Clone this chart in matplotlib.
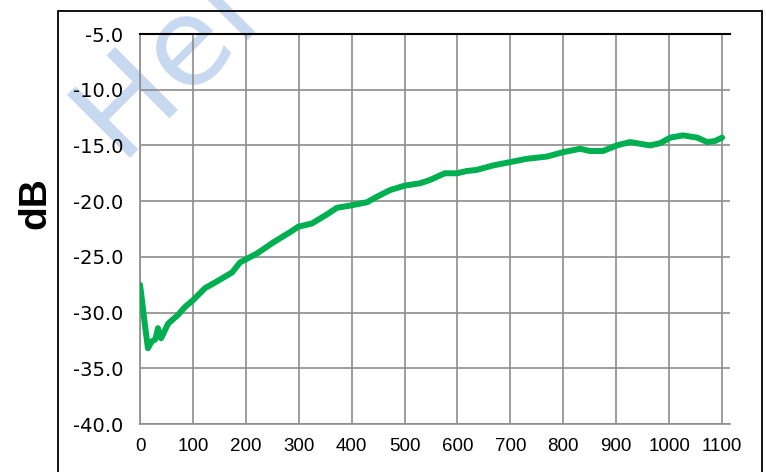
import numpy as np
import matplotlib.pyplot as plt
from matplotlib.patches import Rectangle

plt.rcParams['font.family'] = ['Liberation Sans', 'DejaVu Sans']

# curve (frequency, dB)
freq = [0, 3, 9, 15, 22, 29, 34, 40, 53, 72, 85, 100, 123, 142, 174,
        189, 221, 252, 283, 299, 325, 353, 372, 397, 429, 448, 473, 501,
        529, 548, 576, 599, 617, 636, 667, 699, 731, 769, 800, 832, 850,
        875, 901, 926, 964, 983, 1002, 1026, 1053, 1072, 1087, 1100]
db = [-27.5, -28.6, -31.0, -33.2, -32.6, -32.4, -31.4, -32.3, -31.0,
      -30.2, -29.5, -28.9, -27.8, -27.3, -26.4, -25.5, -24.7, -23.7,
      -22.8, -22.3, -22.0, -21.2, -20.6, -20.4, -20.1, -19.6, -19.0,
      -18.6, -18.4, -18.1, -17.5, -17.5, -17.3, -17.2, -16.8, -16.5,
      -16.2, -16.0, -15.6, -15.3, -15.5, -15.5, -15.0, -14.7, -15.0,
      -14.8, -14.3, -14.1, -14.3, -14.7, -14.6, -14.3]

x_ticks = list(range(0, 1101, 100))
y_ticks = [-40, -35, -30, -25, -20, -15, -10, -5]

W, H = 766, 472
fig = plt.figure(figsize=(W / 100, H / 100), dpi=100)

# outer chart border (bottom runs off the image)
fig.patches.append(Rectangle((58 / W, -0.1), (762 - 58) / W, 1 - 11 / H + 0.1,
                             transform=fig.transFigure, fill=False,
                             edgecolor='black', lw=1.3))

# watermark behind everything
fig.text(119 / W, 1 - 158 / H, 'Hel', fontsize=88, color='#c6d9f0',
         family='DejaVu Sans', rotation=45, rotation_mode='anchor',
         ha='left', va='baseline', zorder=-1)

ax = fig.add_axes([140 / W, 1 - 424 / H, (730 - 140) / W, (424 - 34) / H])
ax.set_facecolor('none')

ax.plot(freq, db, color='#00b050', lw=4.3, solid_capstyle='round',
        solid_joinstyle='round', zorder=3)

ax.set_xlim(0, 1115)
ax.set_ylim(-40, -5)
ax.set_xticks(x_ticks)
ax.set_yticks(y_ticks)
ax.set_yticklabels(['%.1f' % v for v in y_ticks], family='DejaVu Sans',
                   fontsize=14)
ax.tick_params(axis='both', length=0)
ax.tick_params(axis='x', labelsize=13.5, pad=10)
ax.tick_params(axis='y', pad=12)

ax.grid(True, color='#8c8c8c', lw=1.2)
ax.set_axisbelow(True)
for s in ['left', 'bottom']:
    ax.spines[s].set_color('#8c8c8c')
    ax.spines[s].set_linewidth(1.2)
ax.spines['right'].set_visible(False)
ax.spines['top'].set_color('black')
ax.spines['top'].set_linewidth(1.5)

fig.text(35 / W, 1 - 203 / H, 'dB', fontsize=28, fontweight='bold',
         rotation=90, ha='center', va='center')

fig.savefig('out.png', dpi=100)
